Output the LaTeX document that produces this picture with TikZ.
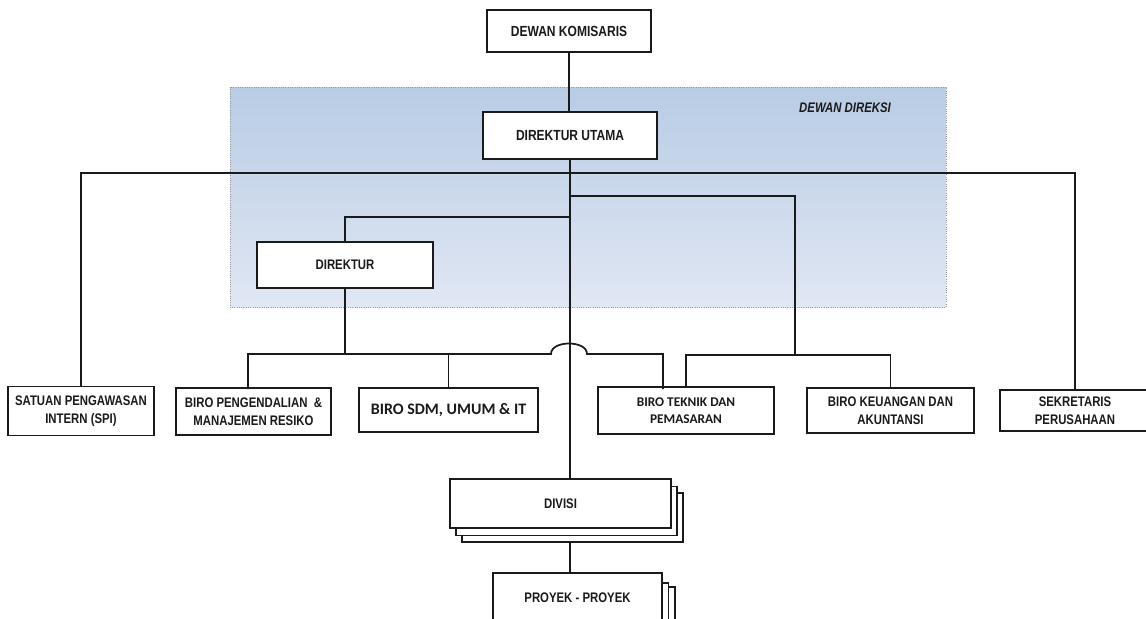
\documentclass[tikz,border=0pt]{standalone}
\usepackage{fontspec}
\newfontfamily\narrowf[FakeStretch=0.82]{Liberation Sans}
\newfontfamily\calib{Carlito}
\definecolor{ink}{HTML}{1A1A1A}
\definecolor{bluetop}{HTML}{B8CCE4}
\definecolor{bluemid}{HTML}{C3D2EB}
\definecolor{bluebot}{HTML}{E1E7F4}
\definecolor{dotgray}{HTML}{9A9A9A}
\tikzset{
  box/.style={draw=ink, line width=1.3pt, fill=white, inner sep=0pt, align=center, text=ink},
  mainfont/.style={font=\narrowf\bfseries\fontsize{11}{13}\selectfont},
  subfont/.style={font=\narrowf\bfseries\fontsize{10.4}{13.3}\selectfont},
  calfont/.style={font=\calib\bfseries\fontsize{10}{12.8}\selectfont},
  link/.style={draw=ink, line width=1.3pt},
}
\begin{document}
\begin{tikzpicture}[x=0.75pt, y=-0.75pt]
\useasboundingbox (0,0) rectangle (1146,618);
% board of directors area
\path[top color=bluetop, middle color=bluemid, bottom color=bluebot] (230,87) rectangle (946,307);
\draw[dotgray, line width=0.7pt, densely dotted] (230,87) rectangle (946,307);
\node[font=\narrowf\bfseries\itshape\fontsize{10.4}{12.5}\selectfont, text=ink] (dd) at (845,108) {DEWAN DIREKSI};

% nodes
\node[box, mainfont, minimum width=123pt, minimum height=31.5pt] (kom) at (569,31) {DEWAN KOMISARIS};
\node[box, mainfont, minimum width=130.5pt, minimum height=35.25pt] (utama) at (570,135.5) {DIREKTUR UTAMA};
\node[box, subfont, minimum width=132pt, minimum height=34.5pt] (direktur) at (345,265) {DIREKTUR};
\node[box, subfont, minimum width=109.5pt, minimum height=36.75pt] (spi) at (81,411) {SATUAN PENGAWASAN\\INTERN (SPI)};
\node[box, subfont, minimum width=116.25pt, minimum height=35.25pt] (peng) at (253.5,411.5) {BIRO PENGENDALIAN \ \&\\MANAJEMEN RESIKO};
\node[box, font=\calib\bfseries\fontsize{12}{14}\selectfont, minimum width=134.25pt, minimum height=33pt] (sdm) at (448.5,410) {BIRO SDM, UMUM \& IT};
\node[box, calfont, minimum width=132pt, minimum height=35.25pt] (teknik) at (686,410.5) {BIRO TEKNIK DAN\\PEMASARAN};
\node[box, subfont, minimum width=125.25pt, minimum height=33.75pt] (keu) at (890.5,410.5) {BIRO KEUANGAN DAN\\AKUNTANSI};
\node[box, subfont, minimum width=112.5pt, minimum height=30.75pt] (sek) at (1075,410.5) {SEKRETARIS\\PERUSAHAAN};

% stacked divisi
\node[box, minimum width=165.75pt, minimum height=36.75pt] (divisiC) at (572.5,517.5) {};
\node[box, minimum width=165.75pt, minimum height=36.75pt] (divisiB) at (566.5,511) {};
\node[box, subfont, minimum width=165.75pt, minimum height=36.75pt] (divisi) at (560.5,503.5) {DIVISI};
% stacked proyek
\node[box, minimum width=126.75pt, minimum height=36.75pt] (proyekC) at (590.5,611.5) {};
\node[box, minimum width=126.75pt, minimum height=36.75pt] (proyekB) at (584,607.5) {};
\node[box, subfont, minimum width=126.75pt, minimum height=36.75pt] (proyek) at (577.5,597.5) {PROYEK - PROYEK};

% junction coordinates
\coordinate (jlong) at (569,173);
\coordinate (jright) at (569,196);
\coordinate (jdir) at (569,217);
\coordinate (kk) at (795,355);
\coordinate (dj) at (345,354);
\coordinate (hopL) at (551,354);
\coordinate (hopR) at (587,354);
\coordinate (pengtop) at (248,389);
\coordinate (tekL) at (663,389);

% connectors
\draw[link] (kom.south) -- (kom.south |- utama.north);
\draw[link] (utama.south) -- (utama.south |- divisi.north);
\draw[link] (spi.north) |- (jlong) -| (sek.north);
\draw[link] (jright) -| (kk);
\draw[link] (teknik.north) |- (kk) -| (keu.north);
\draw[link] (jdir) -| (direktur.north);
\draw[link] (direktur.south) -- (dj);
\draw[link] (pengtop) |- (hopL) .. controls (551,340) and (587,340) .. (hopR) -| (tekL);
\draw[link] (sdm.north) -- (sdm.north |- dj);
\draw[link] (utama.south |- divisiC.south) -- (utama.south |- proyek.north);
\end{tikzpicture}
\end{document}
